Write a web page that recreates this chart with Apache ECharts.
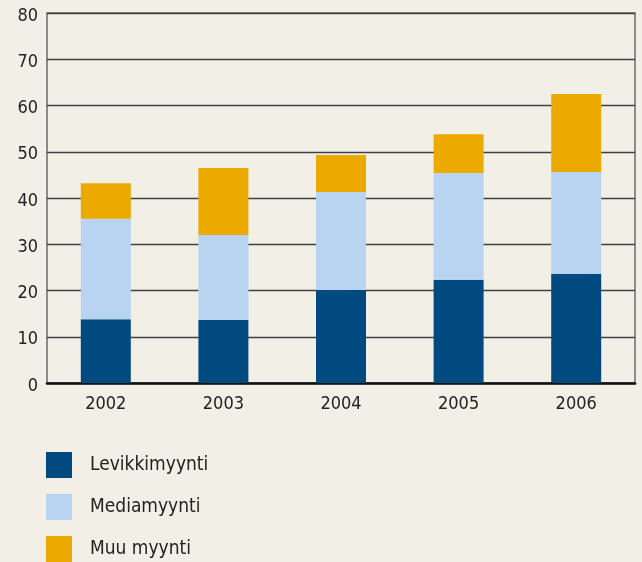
<!DOCTYPE html>
<html><head><meta charset="utf-8">
<script src="https://cdn.jsdelivr.net/npm/echarts@6/dist/echarts.min.js"></script>
<style>html,body{margin:0;padding:0;background:#f2efe7}#c{width:642px;height:562px}</style>
</head><body><div id="c"></div>
<script>
const categories = ['2002','2003','2004','2005','2006'];
const levikki = [13.8, 13.6, 20.1, 22.3, 23.6];
const media = [21.7, 18.4, 21.2, 23.1, 22.0];
const muu = [7.7, 14.5, 8.0, 8.4, 16.9];
const seriesNames = ['Levikkimyynti','Mediamyynti','Muu myynti'];
const yTicks = [0,10,20,30,40,50,60,70,80];

const font = '"DejaVu Sans Condensed","DejaVu Sans",sans-serif';
const chart = echarts.init(document.getElementById('c'));
chart.setOption({
  backgroundColor: '#f2efe7',
  animation: false,
  grid: {left: 47, right: 7, top: 13, bottom: 179, show: true, borderColor: '#6b6b6b', borderWidth: 1.5},
  legend: {
    orient: 'vertical', left: 46, top: 452, itemWidth: 26, itemHeight: 26, itemGap: 16, padding: 0,
    icon: 'rect', data: seriesNames,
    textStyle: {fontFamily: font, fontSize: 19, color: '#222', padding: [2,0,0,13]}
  },
  xAxis: {
    type: 'category', data: categories,
    axisLine: {lineStyle: {color: '#111', width: 2.5}},
    axisTick: {show: false},
    axisLabel: {fontFamily: font, fontSize: 18, color: '#222', margin: 12}
  },
  yAxis: {
    type: 'value', min: yTicks[0], max: yTicks[yTicks.length-1], interval: 10,
    axisLine: {show: false}, axisTick: {show: false},
    splitLine: {lineStyle: {color: '#404040', width: 1.3}},
    axisLabel: {
      fontFamily: font, fontSize: 18, color: '#222', margin: 9,
      formatter: function (v) { return '{v|' + v + '}'; },
      rich: {v: {fontFamily: font, fontSize: 18, color: '#222', padding: [6, 0, 0, 0]}}
    }
  },
  series: [
    {name: seriesNames[0], type: 'bar', stack: 's', data: levikki, barWidth: 50, itemStyle: {color: '#004a7f'}},
    {name: seriesNames[1], type: 'bar', stack: 's', data: media, barWidth: 50, itemStyle: {color: '#b9d4f0'}},
    {name: seriesNames[2], type: 'bar', stack: 's', data: muu, barWidth: 50, itemStyle: {color: '#eca900'}}
  ]
});
</script></body></html>
